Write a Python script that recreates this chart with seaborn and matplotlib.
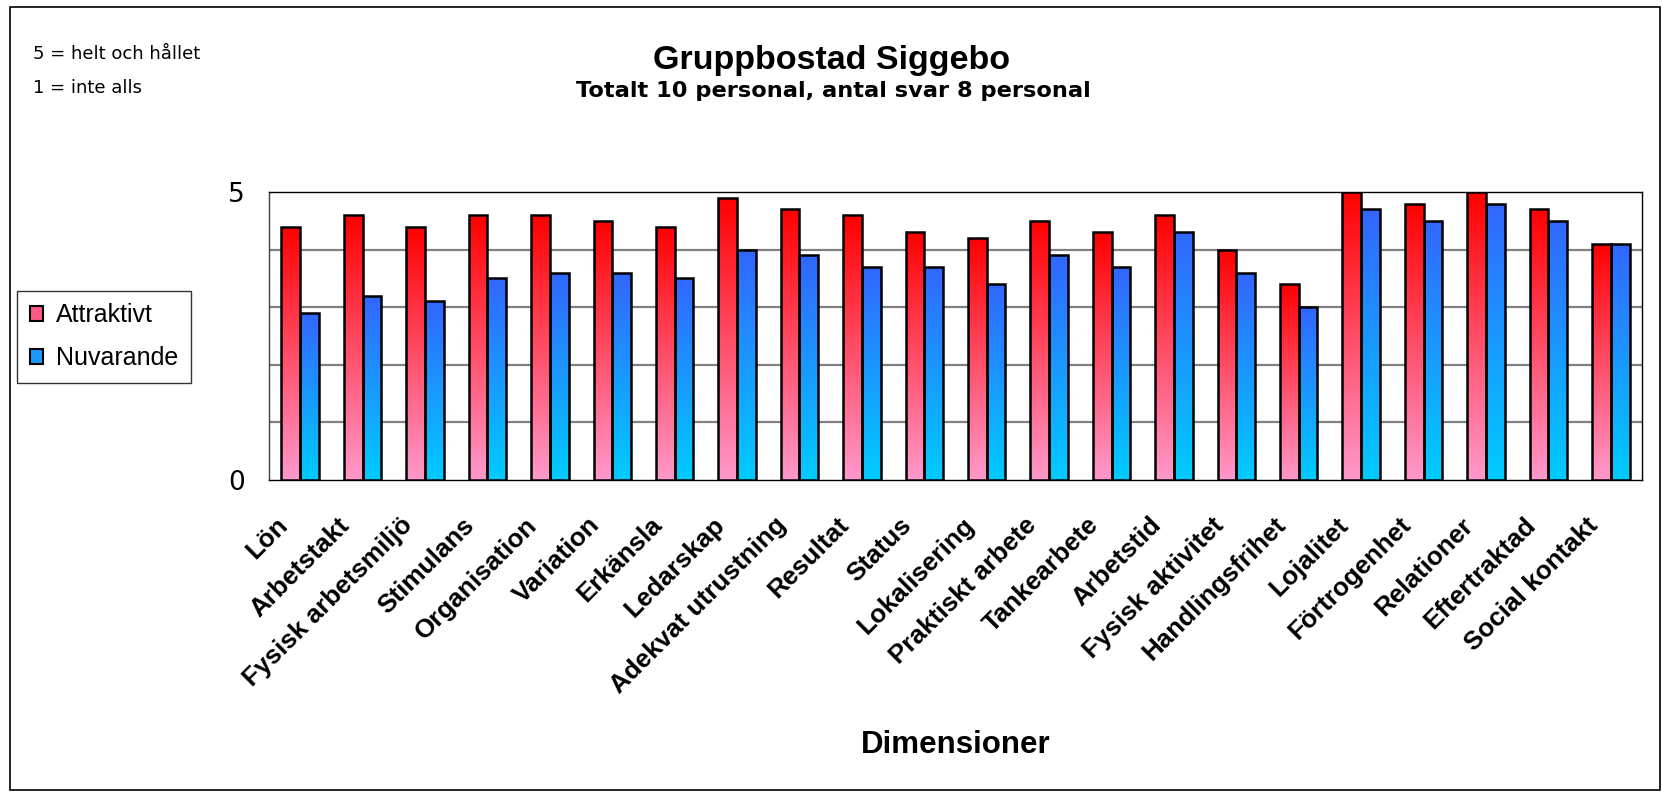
import numpy as np
import pandas as pd
import matplotlib
matplotlib.use("Agg")
import matplotlib.pyplot as plt
import matplotlib.transforms as mtransforms
import seaborn as sns
from matplotlib.colors import LinearSegmentedColormap
from matplotlib.patches import Rectangle
from matplotlib.ticker import FixedLocator

# ---------------- data ----------------
categories = ["Lön", "Arbetstakt", "Fysisk arbetsmiljö", "Stimulans", "Organisation",
              "Variation", "Erkänsla", "Ledarskap", "Adekvat utrustning", "Resultat",
              "Status", "Lokalisering", "Praktiskt arbete", "Tankearbete", "Arbetstid",
              "Fysisk aktivitet", "Handlingsfrihet", "Lojalitet", "Förtrogenhet",
              "Relationer", "Eftertraktad", "Social kontakt"]
attraktivt = [4.4, 4.6, 4.4, 4.6, 4.6, 4.5, 4.4, 4.9, 4.7, 4.6, 4.3,
              4.2, 4.5, 4.3, 4.6, 4.0, 3.4, 5.0, 4.8, 5.0, 4.7, 4.1]
nuvarande = [2.9, 3.2, 3.1, 3.5, 3.6, 3.6, 3.5, 4.0, 3.9, 3.7, 3.7,
             3.4, 3.9, 3.7, 4.3, 3.6, 3.0, 4.7, 4.5, 4.8, 4.5, 4.1]
series = ["Attraktivt", "Nuvarande"]
y_ticks = [0, 5]
y_grid = [1, 2, 3, 4]
title = "Gruppbostad Siggebo"
subtitle = "Totalt 10 personal, antal svar 8 personal"
xlabel = "Dimensioner"
note_lines = ["5 = helt och hållet", "1 = inte alls"]

# ---------------- style ----------------
sns.set_style("white")
plt.rcParams["font.family"] = ["Liberation Sans", "DejaVu Sans"]
for k in ["text.color", "axes.labelcolor", "xtick.color", "ytick.color", "axes.edgecolor"]:
    plt.rcParams[k] = "black"

W, H = 1662, 793
fig = plt.figure(figsize=(W / 100, H / 100), dpi=100)
ax = fig.add_axes([269 / W, 1 - 480 / H, (1642 - 269) / W, (480 - 192) / H])

df = pd.DataFrame({
    "Dimension": categories * 2,
    "Serie": [series[0]] * len(categories) + [series[1]] * len(categories),
    "Värde": attraktivt + nuvarande,
})

top_cols = ["#FF0000", "#3366FF"]
bot_cols = ["#FF99CC", "#00CCFF"]
mid_cols = ["#FF5A85", "#1A99FF"]

sns.barplot(data=df, x="Dimension", y="Värde", hue="Serie", order=categories,
            hue_order=series, width=0.6, palette=mid_cols, saturation=1,
            edgecolor="black", linewidth=1.8, legend=False, ax=ax, zorder=3)

# gradient fills
grad = np.linspace(0, 1, 256).reshape(-1, 1)
for cont, tc, bc in zip(ax.containers, top_cols, bot_cols):
    cmap = LinearSegmentedColormap.from_list("g", [bc, tc])
    for bar in cont:
        x0, y0 = bar.get_x(), bar.get_y()
        w, h = bar.get_width(), bar.get_height()
        im = ax.imshow(grad, cmap=cmap, origin="lower", aspect="auto",
                       extent=[x0, x0 + w, y0, y0 + h], zorder=2.9,
                       interpolation="bilinear")
        im.set_clip_path(bar)
        bar.set_facecolor("none")

ax.set_xlim(-0.5, len(categories) - 0.5)
ax.set_ylim(0, 5)

# y axis
ax.yaxis.set_major_locator(FixedLocator(y_ticks))
ax.yaxis.set_minor_locator(FixedLocator(y_grid))
ax.tick_params(axis="y", which="major", length=7.2, width=1, direction="out",
               labelsize=19, pad=10, color="black")
ax.tick_params(axis="y", which="minor", length=0)
for lab in ax.get_yticklabels():
    lab.set_fontfamily(["DejaVu Sans"])
ax.grid(False)
ax.grid(True, axis="y", which="minor", color="#808080", linewidth=1.6)
ax.set_axisbelow(True)
ax.set_ylabel("")

# x axis
ax.set_xticks(range(len(categories)))
ax.set_xticklabels(categories)
ax.xaxis.set_minor_locator(FixedLocator(np.arange(-0.5, len(categories), 1.0)))
ax.tick_params(axis="x", which="major", length=0, labelsize=18.7, pad=0)
ax.tick_params(axis="x", which="minor", length=6, width=1, direction="out", color="#404040")
offset = mtransforms.ScaledTranslation(-25 / 100, -33 / 100, fig.dpi_scale_trans)
for lab in ax.get_xticklabels():
    lab.set_rotation(45)
    lab.set_ha("right")
    lab.set_va("top")
    lab.set_rotation_mode("anchor")
    lab.set_fontweight("bold")
    lab.set_transform(lab.get_transform() + offset)

ax.set_xlabel(xlabel, fontsize=22.5, fontweight="bold", va="baseline")
ax.xaxis.set_label_coords(0.5, ((1 - 753 / H) - (1 - 480 / H)) / ((480 - 192) / H))

for s in ax.spines.values():
    s.set_visible(True)
    s.set_color("black")
    s.set_linewidth(1.0)
ax.spines["left"].set_color("#404040")

# titles
fig.text(832 / W, 1 - 69 / H, title, ha="center", va="baseline", fontsize=24.5, fontweight="bold")
fig.text(833 / W, 1 - 97 / H, subtitle, ha="center", va="baseline", fontsize=16.2,
         fontweight="bold", family=["DejaVu Sans"])

# notes
fig.text(33 / W, 1 - 59 / H, note_lines[0], ha="left", va="baseline", fontsize=13,
         family=["DejaVu Sans"])
fig.text(33 / W, 1 - 93 / H, note_lines[1], ha="left", va="baseline", fontsize=13,
         family=["DejaVu Sans"])

# legend
handles = [Rectangle((0, 0), 1, 1, facecolor=c, edgecolor="black", linewidth=1.5) for c in mid_cols]
leg = fig.legend(handles, series, loc="upper left", bbox_to_anchor=(17 / W, 1 - 291 / H),
                 bbox_transform=fig.transFigure, fontsize=18, frameon=True, fancybox=False,
                 edgecolor="black", handlelength=0.55, handleheight=0.55, handletextpad=0.5,
                 labelspacing=0.75, borderpad=0.5, borderaxespad=0)
leg.get_frame().set_linewidth(1.0)

# chart border
fig.add_artist(Rectangle((10 / W, 3 / H), (1660 - 10) / W, (790 - 7) / H,
                         transform=fig.transFigure, fill=False, edgecolor="black", linewidth=1.2))

fig.savefig("out.png", dpi=100, facecolor="white")
